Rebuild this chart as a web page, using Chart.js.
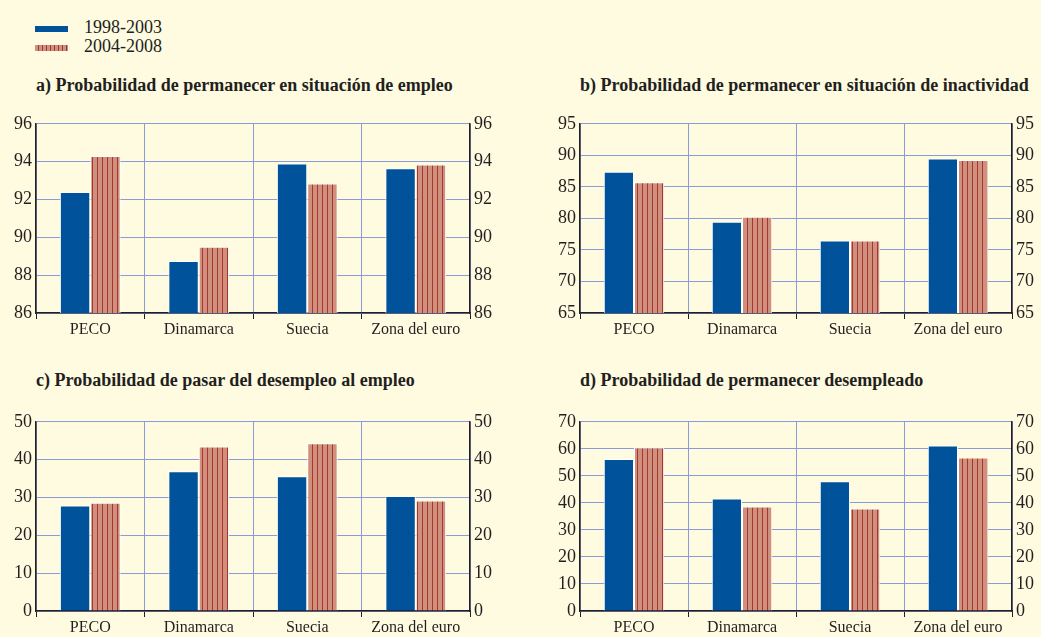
<!DOCTYPE html>
<html>
<head>
<meta charset="utf-8">
<script src="https://cdn.jsdelivr.net/npm/chart.js@4"></script>
<style>
  body { margin: 0; background: #fefbe1; width: 1041px; height: 637px; position: relative; overflow: hidden;
         font-family: "Liberation Serif", "DejaVu Serif", serif; color: #231f20; }
  .box { position: absolute; }
  .title { position: absolute; font-weight: bold; font-size: 18px; white-space: nowrap; }
  .legend { position: absolute; left: 35px; font-size: 18px; }
  .sw { position: absolute; left: 0; width: 33px; height: 6px; }
  .lt { position: absolute; left: 49px; top: -9px; white-space: nowrap; }
</style>
</head>
<body>

<div class="legend" style="top:26px;"><div class="sw" style="background:#00529b;"></div><div class="lt">1998-2003</div></div>
<div class="legend" style="top:45px;"><div class="sw" style="background:repeating-linear-gradient(90deg,#d0907e 0 3px,#a8352e 3px 4px);"></div><div class="lt">2004-2008</div></div>

<div class="title" style="left:36px; top:75px;">a) Probabilidad de permanecer en situación de empleo</div>
<div class="title" style="left:580px; top:75px;">b) Probabilidad de permanecer en situación de inactividad</div>
<div class="title" style="left:36px; top:370px;">c) Probabilidad de pasar del desempleo al empleo</div>
<div class="title" style="left:580px; top:370px;">d) Probabilidad de permanecer desempleado</div>

<div class="box" style="left:0; top:109px;"><canvas id="chartA" width="510" height="234"></canvas></div>
<div class="box" style="left:540px; top:109px;"><canvas id="chartB" width="501" height="234"></canvas></div>
<div class="box" style="left:0; top:407px;"><canvas id="chartC" width="510" height="234"></canvas></div>
<div class="box" style="left:540px; top:407px;"><canvas id="chartD" width="501" height="234"></canvas></div>

<script>
// Data
const categories = ['PECO', 'Dinamarca', 'Suecia', 'Zona del euro'];
const seriesNames = ['1998-2003', '2004-2008'];

const empleo9803 = [92.4, 88.75, 93.9, 93.65];
const empleo0408 = [94.3, 89.5, 92.85, 93.85];

const inactividad9803 = [87.4, 79.45, 76.5, 89.5];
const inactividad0408 = [85.75, 80.25, 76.5, 89.25];

const desempAEmpleo9803 = [27.9, 36.9, 35.6, 30.4];
const desempAEmpleo0408 = [28.6, 43.5, 44.3, 29.2];

const desempleado9803 = [56.2, 41.6, 48.0, 61.2];
const desempleado0408 = [60.5, 38.7, 37.9, 56.8];

// striped fill for the second period
function stripePattern() {
    const c = document.createElement('canvas');
    c.width = 5; c.height = 4;
    const g = c.getContext('2d');
    g.fillStyle = '#d0907e';
    g.fillRect(0, 0, 5, 4);
    g.fillStyle = '#a8352e';
    g.fillRect(2, 0, 1, 4);
    return g.createPattern(c, 'repeat');
}

const gridBlue = '#8b9bd9';
const axisBlack = '#231f20';
const xFont = { family: '"Liberation Serif", serif', size: 16 };
const yFont = { family: '"Liberation Serif", serif', size: 18 };

function makeChart(id, s1, s2, min, max, step, leftW, rightW) {
    const ctx = document.getElementById(id);
    const yOpts = (pos, w, showGrid) => ({
        position: pos,
        min: min, max: max,
        afterFit: s => { s.width = w; },
        ticks: { stepSize: step, color: axisBlack, font: yFont, padding: 4 },
        grid: { display: showGrid, color: gridBlue, drawTicks: false, lineWidth: 1 },
        border: { display: true, color: axisBlack, width: 1.5 }
    });
    new Chart(ctx, {
        type: 'bar',
        data: {
            labels: categories,
            datasets: [
                { label: seriesNames[0], data: s1, backgroundColor: '#00529b',
                  borderColor: '#ffffff', borderWidth: 1, borderSkipped: 'bottom' },
                { label: seriesNames[1], data: s2, backgroundColor: stripePattern(),
                  borderColor: '#ffffff', borderWidth: 1, borderSkipped: 'bottom' }
            ]
        },
        options: {
            responsive: false,
            animation: false,
            layout: { padding: { top: 10, left: 0, right: 0, bottom: 0 } },
            plugins: { legend: { display: false }, tooltip: { enabled: false } },
            datasets: { bar: { categoryPercentage: 0.56, barPercentage: 1.0 } },
            scales: {
                x: {
                    afterFit: s => { s.height = 30; },
                    ticks: { color: axisBlack, font: xFont, padding: 1 },
                    grid: { offset: true, color: gridBlue, tickColor: axisBlack, tickLength: 6, lineWidth: 1 },
                    border: { display: true, color: axisBlack, width: 1.5 }
                },
                y: yOpts('left', leftW, true),
                y2: yOpts('right', rightW, false)
            }
        }
    });
}

makeChart('chartA', empleo9803, empleo0408, 86, 96, 2, 36, 40);
makeChart('chartB', inactividad9803, inactividad0408, 65, 95, 5, 40, 29);
makeChart('chartC', desempAEmpleo9803, desempAEmpleo0408, 0, 50, 10, 36, 40);
makeChart('chartD', desempleado9803, desempleado0408, 0, 70, 10, 40, 29);
</script>
</body>
</html>
